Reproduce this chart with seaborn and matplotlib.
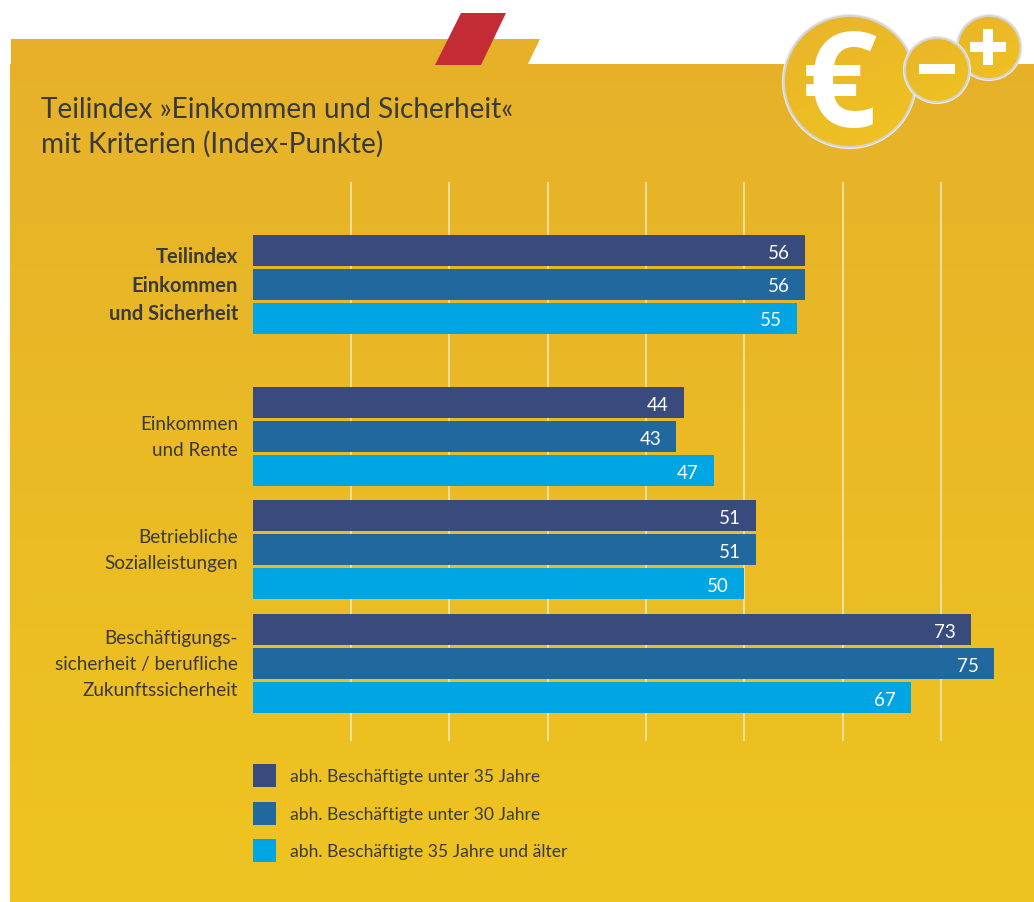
import numpy as np
import pandas as pd
import matplotlib
matplotlib.use("Agg")
import matplotlib.pyplot as plt
from matplotlib.patches import Circle, Polygon, Rectangle
import seaborn as sns

title = "Teilindex »Einkommen und Sicherheit«\nmit Kriterien (Index-Punkte)"
categories = ["Teilindex\nEinkommen\nund Sicherheit", "Einkommen\nund Rente",
              "Betriebliche\nSozialleistungen",
              "Beschäftigungs-\nsicherheit / berufliche\nZukunftssicherheit"]
series_names = ["abh. Beschäftigte unter 35 Jahre", "abh. Beschäftigte unter 30 Jahre",
                "abh. Beschäftigte 35 Jahre und älter"]
under_35 = [56.2, 43.9, 51.2, 73.1]
under_30 = [56.2, 43.1, 51.2, 75.4]
over_35 = [55.4, 46.9, 50.0, 67.0]
grid_ticks = [10, 20, 30, 40, 50, 60, 70]

# groups are not evenly spaced in the original, first one sits further up
group_pos = [0, 1.34, 2.335, 3.34]

W, H = 1034, 903
DARK = "#3a3a3c"
sns.set_style("white")
plt.rcParams["font.family"] = ["Lato", "DejaVu Sans"]

fig = plt.figure(figsize=(W / 100, H / 100), dpi=100, facecolor="white")

# background in pixel coordinates
bg = fig.add_axes([0, 0, 1, 1], zorder=0)
bg.set_xlim(0, W)
bg.set_ylim(H, 0)
bg.axis("off")


def gradient(c1, c2, extent, clip, angle=False):
    c1 = np.array(matplotlib.colors.to_rgb(c1))
    c2 = np.array(matplotlib.colors.to_rgb(c2))
    t = np.linspace(0, 1, 200)
    if angle:
        yy, xx = np.meshgrid(t, t, indexing="ij")
        t = (0.35 * xx + 0.65 * yy)[:, :, None]
    else:
        t = t[:, None, None]
    img = c1 + (c2 - c1) * t
    im = bg.imshow(img, extent=extent, aspect="auto", zorder=clip.get_zorder())
    im.set_clip_path(clip)


panel = Polygon([(11, 40), (540, 40), (528, 65), (1034, 65), (1034, 904), (10, 904),
                 (10, 65), (11, 65)], closed=True, fc="none", ec="none", zorder=1)
bg.add_patch(panel)
gradient("#E6B12A", "#EFC421", (0, W, H, 39), panel)
bg.add_patch(Polygon([(461, 14), (506, 14), (481, 66), (435, 66)], closed=True, fc="#C32B35",
                     ec="none", zorder=2))


def coin(x, y, r, z):
    bg.add_patch(Circle((x, y), r, fc="#D4D3CE", ec="#ECECEC", lw=0.8, zorder=z))
    inner = Circle((x, y), r - 2.5, fc="none", ec="none", zorder=z + 0.1)
    bg.add_patch(inner)
    gradient("#E8B42A", "#F0C321", (x - r, x + r, y + r, y - r), inner, angle=True)


coin(849.5, 82.5, 67, 3)
coin(989, 48.5, 33, 4)
coin(937, 71, 33.5, 5)
bg.text(839, 76, "€", color="white", fontsize=95, fontweight="bold", family="Open Sans",
        ha="center", va="center_baseline", zorder=3.5)
bg.add_patch(Rectangle((919, 65), 36, 10, fc="white", ec="none", zorder=6))
bg.add_patch(Rectangle((970, 43), 36, 10, fc="white", ec="none", zorder=6))
bg.add_patch(Rectangle((982.7, 30), 10, 36, fc="white", ec="none", zorder=6))

bg.text(41, 117.5, title.split("\n")[0], color=DARK, fontsize=20.2, va="baseline", zorder=7)
bg.text(41, 152.5, title.split("\n")[1], color=DARK, fontsize=20.2, va="baseline", zorder=7)

# chart
ax_left, ax_top, ax_bottom = 252.7, 183, 742
ax = fig.add_axes([ax_left / W, 1 - ax_bottom / H, (W - ax_left) / W, (ax_bottom - ax_top) / H],
                  zorder=1)
ax.patch.set_alpha(0)

df = pd.DataFrame({"pos": group_pos * 3,
                   "value": under_35 + under_30 + over_35,
                   "series": [s for s in series_names for _ in group_pos]})
sns.barplot(data=df, x="value", y="pos", hue="series", hue_order=series_names, orient="y",
            native_scale=True, palette=["#394A7C", "#21689F", "#00A6E3"], saturation=1,
            width=0.903, gap=0.088, linewidth=0, legend=False, ax=ax, errorbar=None)

ax.set_xlim(0, (W - ax_left) / 9.83)
ax.set_ylim((ax_bottom - 285.5) / 113.5, (ax_top - 285.5) / 113.5)
ax.set_xlabel("")
ax.set_ylabel("")
ax.set_xticks(grid_ticks)
ax.set_xticklabels([])
ax.set_yticks(group_pos)
ax.set_yticklabels(categories, fontsize=13.6, color=DARK, linespacing=1.67, va="center")
ax.get_yticklabels()[0].set_fontweight("bold")
ax.get_yticklabels()[0].set_fontsize(14.5)
ax.get_yticklabels()[0].set_linespacing(1.55)
ax.tick_params(axis="both", length=0, pad=10.5)
ax.set_axisbelow(True)
ax.grid(axis="x", color="#F7E6AE", lw=1.2)
ax.grid(axis="y", visible=False)
sns.despine(ax=ax, left=True, bottom=True)

for cont in ax.containers:
    for bar in cont:
        ax.annotate(f"{bar.get_width():.0f}", (bar.get_width(), bar.get_y() + bar.get_height() / 2),
                    xytext=(-11, 0), textcoords="offset points", ha="right", va="center_baseline",
                    color="white", fontsize=13.5)

leg = ax.legend([c[0] for c in ax.containers], series_names, loc="upper left", frameon=False,
                bbox_to_anchor=(253 / W, 1 - 765 / H), bbox_transform=fig.transFigure,
                fontsize=12.6, handlelength=1.314, handleheight=1.645, handletextpad=0.8,
                labelspacing=0.83, borderpad=0, borderaxespad=0, labelcolor=DARK)

fig.savefig("out.png", dpi=100)
